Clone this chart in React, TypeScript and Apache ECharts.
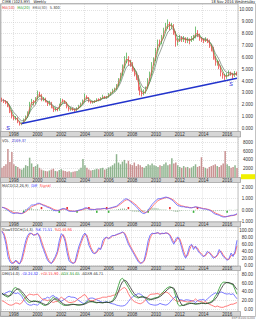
import React, { useEffect, useRef } from "react";
import * as echarts from "echarts";

const FONT = '"Liberation Sans", Arial, sans-serif';
const NARROW = '"Liberation Sans Narrow", "DejaVu Sans Condensed", "Liberation Sans", Arial, sans-serif';

// categories: bi-monthly periods Jan 1997 .. Nov 2016
const months = ["01", "03", "05", "07", "09", "11"];
const dates: string[] = [];
for (let y = 1997; y <= 2016; y++) for (const m of months) dates.push(`${y}-${m}`);

const firstOpen = 2.45;
const closes = [
  2.40, 2.30, 2.20, 1.90, 1.40, 1.00, 0.80, 0.90, 0.55, 0.35,
  0.40, 0.75, 0.95, 1.30, 2.10, 2.30, 2.10, 2.50, 3.00, 2.80,
  2.40, 2.50, 2.30, 2.00, 2.20, 1.80, 1.50, 1.70, 1.55, 2.00,
  2.40, 2.30, 2.20, 1.80, 1.55, 1.70, 1.60, 1.50, 1.70, 1.90,
  2.10, 2.30, 2.75, 2.60, 2.30, 2.20, 2.25, 2.30, 2.45, 2.40,
  2.55, 2.70, 2.60, 2.65, 2.90, 3.00, 3.20, 3.30, 3.60, 4.10,
  4.50, 5.20, 5.70, 6.00, 5.60, 5.50, 5.00, 4.60, 4.40, 3.40,
  3.00, 2.90, 3.10, 3.40, 4.10, 4.60, 5.40, 5.80, 6.60, 7.30,
  7.20, 7.70, 8.30, 8.60, 8.90, 8.60, 8.70, 8.10, 7.20, 7.40,
  7.70, 7.50, 7.60, 7.40, 7.50, 7.40, 7.60, 7.70, 8.20, 7.90,
  7.60, 7.50, 7.40, 7.50, 7.40, 7.00, 6.80, 6.00, 5.50, 5.60,
  5.20, 4.60, 4.50, 4.30, 4.50, 4.70, 4.60, 4.40, 4.75, 4.58,
];
const lows = [
  2.25, 2.15, 2.05, 1.80, 1.30, 0.85, 0.70, 0.70, 0.45, 0.25,
  0.28, 0.38, 0.70, 0.90, 1.25, 2.00, 1.95, 2.05, 2.45, 2.65,
  2.30, 2.30, 2.20, 1.90, 1.95, 1.70, 1.40, 1.45, 1.45, 1.50,
  1.95, 2.20, 2.10, 1.70, 1.45, 1.50, 1.50, 1.40, 1.45, 1.65,
  1.85, 2.05, 2.25, 2.45, 2.20, 2.10, 2.10, 2.15, 2.25, 2.30,
  2.35, 2.50, 2.50, 2.50, 2.60, 2.80, 2.95, 3.10, 3.25, 3.55,
  4.05, 4.45, 5.10, 5.50, 5.30, 5.20, 4.80, 4.40, 4.10, 3.20,
  2.80, 2.70, 2.80, 2.95, 3.35, 4.00, 4.50, 5.30, 5.70, 6.50,
  6.90, 7.10, 7.60, 8.20, 8.40, 8.30, 8.40, 7.90, 6.90, 7.00,
  7.30, 7.30, 7.30, 7.20, 7.20, 7.10, 7.30, 7.40, 7.60, 7.70,
  7.40, 7.30, 7.20, 7.30, 7.20, 6.80, 6.50, 5.80, 5.30, 5.30,
  5.00, 4.40, 4.20, 4.10, 4.20, 4.40, 4.45, 4.20, 4.35, 4.45,
];
const highs = [
  2.60, 2.50, 2.40, 2.30, 2.00, 1.50, 1.10, 1.05, 0.95, 0.60,
  0.50, 0.85, 1.10, 1.45, 2.25, 2.50, 2.40, 2.65, 3.20, 3.10,
  2.90, 2.65, 2.60, 2.35, 2.35, 2.25, 1.85, 1.80, 1.75, 2.10,
  2.55, 2.50, 2.40, 2.25, 1.85, 1.80, 1.75, 1.65, 1.80, 2.00,
  2.20, 2.45, 2.95, 2.80, 2.65, 2.35, 2.35, 2.40, 2.55, 2.55,
  2.65, 2.85, 2.75, 2.75, 3.00, 3.10, 3.35, 3.45, 3.75, 4.25,
  4.70, 5.40, 6.10, 6.40, 6.10, 5.80, 5.60, 5.10, 4.80, 4.50,
  3.50, 3.20, 3.30, 3.55, 4.25, 4.80, 5.60, 6.00, 6.80, 7.50,
  7.50, 7.90, 8.50, 8.90, 9.20, 9.00, 8.90, 8.80, 8.20, 7.60,
  7.90, 7.80, 7.80, 7.70, 7.70, 7.60, 7.80, 7.90, 8.60, 8.30,
  8.00, 7.70, 7.60, 7.70, 7.60, 7.50, 7.10, 6.90, 6.10, 5.80,
  5.70, 5.30, 4.70, 4.60, 4.70, 4.90, 4.80, 4.70, 4.85, 4.80,
];
const volumes = [
  2200, 2600, 3000, 6500, 3500, 5800, 3000, 2600, 2400, 2000,
  1800, 2200, 2800, 2600, 4500, 3200, 2400, 2600, 3000, 2200,
  1800, 1600, 1500, 1400, 1600, 1800, 2000, 1500, 1400, 1700,
  1900, 1600, 1500, 1300, 1400, 1200, 1300, 1400, 1500, 1800,
  2200, 4200, 2800, 2200, 1800, 1600, 1700, 1800, 2000, 1900,
  2100, 2200, 1800, 2000, 2300, 2500, 2800, 3200, 5300, 3400,
  3000, 3600, 4000, 3200, 3800, 3000, 2800, 3400, 2600, 3000,
  2800, 2400, 2200, 2600, 3000, 2800, 3200, 2800, 2600, 2400,
  2800, 2600, 3000, 3400, 2800, 3000, 4400, 3200, 3400, 2800,
  2400, 2200, 2600, 2300, 2400, 2100, 2300, 2600, 3000, 2400,
  2600, 4600, 2400, 2200, 2000, 2400, 2600, 2800, 3000, 2600,
  2400, 2800, 3200, 6000, 3000, 2600, 2200, 2400, 2800, 2169,
];
const macdDiff = [
  0.25, 0.2, 0.1, 0.0, -0.15, -0.25, -0.3, -0.25, -0.25, -0.3,
  -0.3, -0.2, -0.05, 0.1, 0.3, 0.45, 0.45, 0.5, 0.6, 0.6,
  0.5, 0.4, 0.35, 0.25, 0.2, 0.1, 0.0, -0.05, -0.05, 0.0,
  0.1, 0.15, 0.1, 0.0, -0.1, -0.1, -0.1, -0.1, -0.05, 0.0,
  0.05, 0.1, 0.2, 0.2, 0.1, 0.05, 0.05, 0.05, 0.1, 0.1,
  0.1, 0.15, 0.15, 0.1, 0.15, 0.2, 0.25, 0.3, 0.35, 0.5,
  0.65, 0.8, 0.95, 1.0, 0.9, 0.75, 0.6, 0.45, 0.3, 0.1,
  -0.1, -0.25, -0.3, -0.2, 0.0, 0.25, 0.5, 0.7, 0.85, 1.0,
  1.0, 1.05, 1.1, 1.15, 1.1, 1.0, 0.9, 0.75, 0.55, 0.4,
  0.35, 0.3, 0.3, 0.25, 0.25, 0.2, 0.2, 0.25, 0.3, 0.25,
  0.2, 0.15, 0.1, 0.1, 0.05, 0.0, -0.1, -0.25, -0.35, -0.4,
  -0.45, -0.55, -0.6, -0.6, -0.55, -0.5, -0.45, -0.45, -0.4, -0.3,
];
const stochK = [
  97, 85, 60, 25, 10, 5, 8, 15, 6, 4,
  20, 45, 70, 85, 92, 90, 85, 88, 92, 80,
  60, 45, 30, 15, 8, 5, 15, 25, 40, 70,
  90, 85, 67, 35, 12, 8, 5, 10, 35, 55,
  70, 85, 92, 80, 57, 45, 35, 33, 40, 50,
  45, 70, 78, 80, 75, 82, 85, 85, 88, 90,
  92, 95, 90, 75, 60, 50, 40, 30, 20, 10,
  5, 8, 15, 40, 70, 86, 92, 90, 92, 93,
  88, 92, 90, 93, 90, 85, 70, 60, 75, 81,
  70, 50, 30, 20, 35, 55, 60, 45, 55, 43,
  35, 30, 24, 30, 40, 35, 28, 20, 24, 30,
  45, 35, 25, 20, 14, 20, 35, 25, 40, 71.51,
];
const minusDI = [
  35, 35, 38, 40, 42, 40, 38, 36, 38, 35,
  30, 22, 16, 12, 10, 10, 12, 11, 10, 14,
  20, 24, 25, 28, 26, 30, 32, 28, 27, 22,
  18, 22, 24, 28, 30, 28, 28, 27, 24, 20,
  17, 14, 14, 20, 25, 26, 26, 24, 22, 20,
  18, 16, 17, 18, 16, 14, 13, 12, 10, 9,
  8, 8, 9, 12, 18, 24, 28, 32, 34, 36,
  35, 32, 28, 22, 15, 12, 11, 10, 10, 11,
  14, 12, 11, 10, 12, 16, 22, 26, 30, 27,
  22, 22, 20, 22, 22, 21, 20, 19, 16, 20,
  22, 22, 23, 20, 24, 28, 32, 35, 38, 36,
  38, 40, 38, 36, 35, 36, 34, 36, 30, 24.32,
];
const plusDI = [
  20, 18, 15, 12, 10, 10, 12, 15, 14, 12,
  15, 22, 28, 32, 35, 34, 33, 34, 35, 30,
  25, 22, 22, 20, 22, 18, 16, 18, 18, 24,
  28, 25, 22, 18, 16, 16, 17, 18, 22, 26,
  28, 32, 34, 28, 22, 20, 20, 22, 24, 25,
  26, 28, 28, 28, 30, 30, 32, 33, 36, 40,
  44, 48, 50, 46, 36, 28, 22, 18, 16, 14,
  13, 15, 18, 24, 30, 34, 35, 35, 36, 36,
  34, 36, 38, 40, 38, 34, 28, 24, 20, 18,
  20, 20, 19, 18, 17, 18, 19, 20, 24, 20,
  18, 18, 16, 18, 15, 12, 10, 8, 6, 8,
  6, 5, 5, 7, 8, 10, 12, 12, 14, 15.9,
];
const adx = [
  37, 33, 30, 28, 32, 40, 48, 50, 46, 42,
  36, 30, 24, 18, 16, 18, 20, 19, 17, 16,
  13, 10, 9, 12, 18, 24, 28, 24, 20, 16,
  13, 10, 9, 10, 11, 12, 12, 11, 10, 10,
  11, 12, 14, 17, 20, 18, 17, 16, 15, 16,
  16, 15, 16, 17, 16, 17, 20, 28, 40, 55,
  68, 71, 65, 58, 50, 42, 35, 30, 28, 26,
  28, 30, 28, 25, 22, 22, 24, 26, 27, 28,
  32, 37, 42, 47, 50, 52, 50, 45, 30, 12,
  8, 9, 10, 12, 14, 15, 14, 13, 12, 13,
  14, 15, 14, 13, 14, 16, 18, 22, 30, 37,
  48, 58, 62, 62, 61, 60, 58, 56, 45, 34.65,
];

// trend line (support) and annotations, in data coordinates
const trendStart = { date: "1998-09", value: 0.42 };
const trendEnd = { date: "2016-11", value: 4.24 };
const sMarks = [
  { date: "1997-07", value: 0.05 },
  { date: "2016-05", value: 3.75 },
];

const priceTicks = [0, 1, 2, 3, 4, 5, 6, 7, 8, 9, 10];
const volTicks = [2000, 4000, 6000, 8000];
const macdTicks = [-1, 0, 1, 2];
const stochTicks = [0, 20, 40, 60, 80, 100];
const dmiTicks = [0, 20, 40, 60, 80];

// header rows of legend text: [text, colour]
const headerLeft: [string, string][] = [["CIMB (1023.MY)", "#222"], ["Weekly", "#222"]];
const headerRight = "18 Nov 2016 Wednesday";
const maRow: [string, string][] = [["MA(10)", "#e03030"], ["MA(20)", "#30a030"], ["EMA(30)", "#606060"], ["5.300", "#333"]];
const volRow: [string, string][] = [["VOL", "#333"], ["2169.37", "#3a3ad0"]];
const macdRow: [string, string][] = [["MACD(12,26,9)", "#333"], ["Diff", "#3a3aff"], ["Signal", "#ff3a3a"]];
const stochRow: [string, string][] = [["SlowSTOCH(14,3)", "#333"], ["%K 71.51", "#3a3aff"], ["%D 46.96", "#ff3a3a"]];
const dmiRow: [string, string][] = [["DMI(14.0)", "#333"], ["-DI 24.32", "#3a3aff"], ["+DI 15.90", "#ff3a3a"], ["ADX 34.65", "#2a9a2a"], ["ADXR 46.71", "#333"]];

function sma(a: number[], n: number) {
  return a.map((_, i) => {
    if (i < n - 1) return "-";
    let s = 0;
    for (let k = i - n + 1; k <= i; k++) s += a[k];
    return +(s / n).toFixed(3);
  });
}
function ema(a: number[], n: number) {
  const al = 2 / (n + 1);
  let prev = a[0];
  return a.map((v, i) => {
    if (i === 0) return v;
    prev = prev + al * (v - prev);
    return +prev.toFixed(3);
  });
}

export default function App() {
  const ref = useRef<HTMLDivElement>(null);
  useEffect(() => {
    document.body.style.margin = "0";
    if (!ref.current) return;
    const chart = echarts.init(ref.current, undefined, { renderer: "svg" });

    const opens = closes.map((_, i) => (i === 0 ? firstOpen : closes[i - 1]));
    const candles = closes.map((c, i) => [opens[i], c, lows[i], highs[i]]);
    const ma10 = sma(closes, 2);
    const ma20 = sma(closes, 3);
    const ema30 = ema(closes, 5);
    const signal = (() => {
      let p = macdDiff[0];
      return macdDiff.map((v, i) => {
        if (i === 0) return v;
        p = p + 0.5 * (v - p);
        return +p.toFixed(3);
      });
    })();
    const hist = macdDiff.map((v, i) => +(v - (signal[i] as number)).toFixed(3));
    const sells: any[] = [];
    const buys: any[] = [];
    for (let i = 1; i < hist.length; i++) {
      if (hist[i - 1] > 0 && hist[i] <= 0) sells.push([dates[i], 0.18]);
      if (hist[i - 1] < 0 && hist[i] >= 0) buys.push([dates[i], -0.14]);
    }
    const stochD = stochK.map((v, i) => (i === 0 ? v : +((v + stochK[i - 1]) / 2).toFixed(2)));
    const adxr = adx.map((v, i) => (i < 2 ? v : +((v + adx[i - 2]) / 2).toFixed(2)));

    const gridDefs = [
      { top: 4, height: 127.5 },
      { top: 137, height: 40.5 },
      { top: 182.5, height: 39.2 },
      { top: 226.7, height: 39.3 },
      { top: 270.5, height: 41 },
    ];
    const bands = [
      [131.5, 137],
      [177.5, 182.5],
      [221.7, 226.7],
      [266, 270.5],
      [311.5, 316.3],
    ];
    const yDefs = [
      { min: -0.25, max: 10.5, ticks: priceTicks, fmt: (v: number) => v.toFixed(3) },
      { min: 0, max: 9200, ticks: volTicks, fmt: (v: number) => String(v) },
      { min: -1.01, max: 2.42, ticks: macdTicks, fmt: (v: number) => v.toFixed(3) },
      { min: -2, max: 110, ticks: stochTicks, fmt: (v: number) => v.toFixed(2) },
      { min: -4.5, max: 88.6, ticks: dmiTicks, fmt: (v: number) => v.toFixed(2) },
    ];
    const grid = gridDefs.map((g) => ({
      left: 1,
      right: 16,
      top: g.top,
      height: g.height,
      show: true,
      borderColor: "#9a9a9a",
      borderWidth: 0.6,
      backgroundColor: "#ffffff",
    }));
    const isYear = (i: number) => i % 12 === 6;
    const xAxis = gridDefs.map((_, gi) => ({
      type: "category",
      gridIndex: gi,
      data: dates,
      boundaryGap: true,
      axisLine: { show: false },
      axisTick: { show: false },
      axisLabel: {
        interval: (i: number) => isYear(i),
        formatter: (v: string) => v.slice(0, 4),
        fontSize: 4.5,
        lineHeight: 4.6,
        fontFamily: FONT,
        color: "#333",
        margin: 0.6,
      },
      splitLine: {
        show: true,
        interval: (i: number) => isYear(i),
        lineStyle: { color: "#c4c4c4", type: [1, 1], width: 0.5 },
      },
    }));
    const yAxis = yDefs.map((y, gi) => ({
      type: "value",
      gridIndex: gi,
      position: "right",
      min: y.min,
      max: y.max,
      axisLine: { show: false },
      axisTick: { show: false, customValues: y.ticks },
      axisLabel: {
        customValues: y.ticks,
        formatter: y.fmt,
        fontSize: 4.5,
        fontFamily: FONT,
        color: "#333",
        margin: 15,
        align: "right",
      },
      splitLine: { show: true, lineStyle: { color: "#c4c4c4", type: [1, 1], width: 0.5 } },
    }));

    const line = (gi: number, data: any[], color: string, width = 0.7) => ({
      type: "line",
      xAxisIndex: gi,
      yAxisIndex: gi,
      data,
      symbol: "none",
      lineStyle: { color, width },
      silent: true,
    });

    const HFONT = `normal 3.9px ${NARROW}`;
    const ctx = document.createElement("canvas").getContext("2d");
    const measure = (t: string) => {
      if (!ctx) return t.length * 2;
      ctx.font = HFONT;
      return ctx.measureText(t).width;
    };
    const T = (x: number, y: number, text: string, fill: string, align = "left", font = HFONT) => ({
      type: "text",
      x,
      y,
      z: 20,
      silent: true,
      style: { text, fill, font, textAlign: align, textVerticalAlign: "top" },
    });
    const row = (y: number, segs: [string, string][], x0 = 2, gap = 2.6) => {
      let x = x0;
      return segs.map(([t, c]) => {
        const el = T(x, y, t, c);
        x += measure(t) + gap;
        return el;
      });
    };

    const graphic: any[] = [
      ...bands.map(([a, b]) => ({
        type: "rect",
        z: -5,
        silent: true,
        shape: { x: 0.5, y: a, width: 240, height: b - a },
        style: { fill: "#d6d6d6", stroke: "#8a8a8a", lineWidth: 0.6 },
      })),
      {
        type: "rect",
        z: 30,
        silent: true,
        shape: { x: 0.5, y: 3.5, width: 255, height: 313 },
        style: { fill: "none", stroke: "#9a9a9a", lineWidth: 0.6 },
      },
      ...row(-0.2, headerLeft, 2, 3.5),
      T(255, -0.2, headerRight, "#222", "right"),
      ...row(5, maRow),
      ...row(138.3, volRow),
      ...row(183.3, macdRow),
      ...row(227.4, stochRow),
      ...row(271.7, dmiRow),
      {
        type: "rect",
        z: 25,
        silent: true,
        shape: { x: 241, y: 174.2, width: 14, height: 5 },
        style: { fill: "#f0f000" },
      },
      T(254, 174.5, "2169", "#333", "right", `normal 4.5px ${FONT}`),
      T(255, 316.8, "ESP-8100-0200", "#666", "right", `normal 3.4px ${NARROW}`),
    ];

    const lastClose = closes[closes.length - 1];

    const option: any = {
      animation: false,
      backgroundColor: "#ffffff",
      grid,
      xAxis,
      yAxis,
      graphic,
      series: [
        {
          type: "candlestick",
          xAxisIndex: 0,
          yAxisIndex: 0,
          data: candles,
          barWidth: 1.3,
          silent: true,
          itemStyle: {
            color: "#1f9a1f",
            color0: "#e01010",
            borderColor: "#1f9a1f",
            borderColor0: "#e01010",
            borderWidth: 0.6,
          },
          markLine: {
            silent: true,
            symbol: ["none", "none"],
            label: { show: false },
            lineStyle: { color: "#2233cc", width: 1.4, type: "solid" },
            data: [
              [
                { coord: [trendStart.date, trendStart.value] },
                { coord: [trendEnd.date, trendEnd.value] },
              ],
              {
                yAxis: lastClose,
                lineStyle: { opacity: 0, width: 0 },
                label: {
                  show: true,
                  position: "end",
                  distance: 1,
                  formatter: lastClose.toFixed(3),
                  fontSize: 4.5,
                  fontFamily: FONT,
                  color: "#a00000",
                  backgroundColor: "#f5b5b5",
                  padding: [0.5, 1],
                },
              },
            ],
          },
          markPoint: {
            silent: true,
            symbol: "circle",
            symbolSize: 0,
            label: {
              show: true,
              formatter: "S",
              color: "#3a3ae0",
              fontStyle: "italic",
              fontSize: 6,
              fontFamily: FONT,
            },
            data: sMarks.map((s) => ({ coord: [s.date, s.value] })),
          },
        },
        line(0, ema30, "#6a7a6a", 0.7),
        line(0, ma20, "#3aa03a", 0.7),
        line(0, ma10, "#f04a4a", 0.7),
        {
          type: "bar",
          xAxisIndex: 1,
          yAxisIndex: 1,
          barWidth: 1.5,
          silent: true,
          data: volumes.map((v, i) => ({
            value: v,
            itemStyle: { color: closes[i] >= opens[i] ? "#8fb48f" : "#c99292" },
          })),
        },
        {
          type: "bar",
          xAxisIndex: 2,
          yAxisIndex: 2,
          barWidth: 0.8,
          silent: true,
          data: hist,
          itemStyle: { color: "#9ab89a" },
        },
        line(2, signal, "#ff5a5a", 0.8),
        line(2, macdDiff, "#6060ff", 0.8),
        {
          type: "scatter",
          xAxisIndex: 2,
          yAxisIndex: 2,
          symbol: "rect",
          symbolSize: [1.6, 2.2],
          silent: true,
          itemStyle: { color: "#e00000" },
          data: sells,
        },
        {
          type: "scatter",
          xAxisIndex: 2,
          yAxisIndex: 2,
          symbol: "rect",
          symbolSize: [1.6, 2.2],
          silent: true,
          itemStyle: { color: "#10a010" },
          data: buys,
        },
        line(3, stochD, "#ff5a5a", 0.8),
        line(3, stochK, "#5a5aff", 0.8),
        line(4, minusDI, "#5a5aff", 0.8),
        line(4, plusDI, "#ff5a5a", 0.8),
        line(4, adx, "#2a9a2a", 0.8),
        line(4, adxr, "#303030", 0.8),
      ],
    };
    chart.setOption(option);
    return () => chart.dispose();
  }, []);
  return <div ref={ref} style={{ width: 256, height: 320 }} />;
}
